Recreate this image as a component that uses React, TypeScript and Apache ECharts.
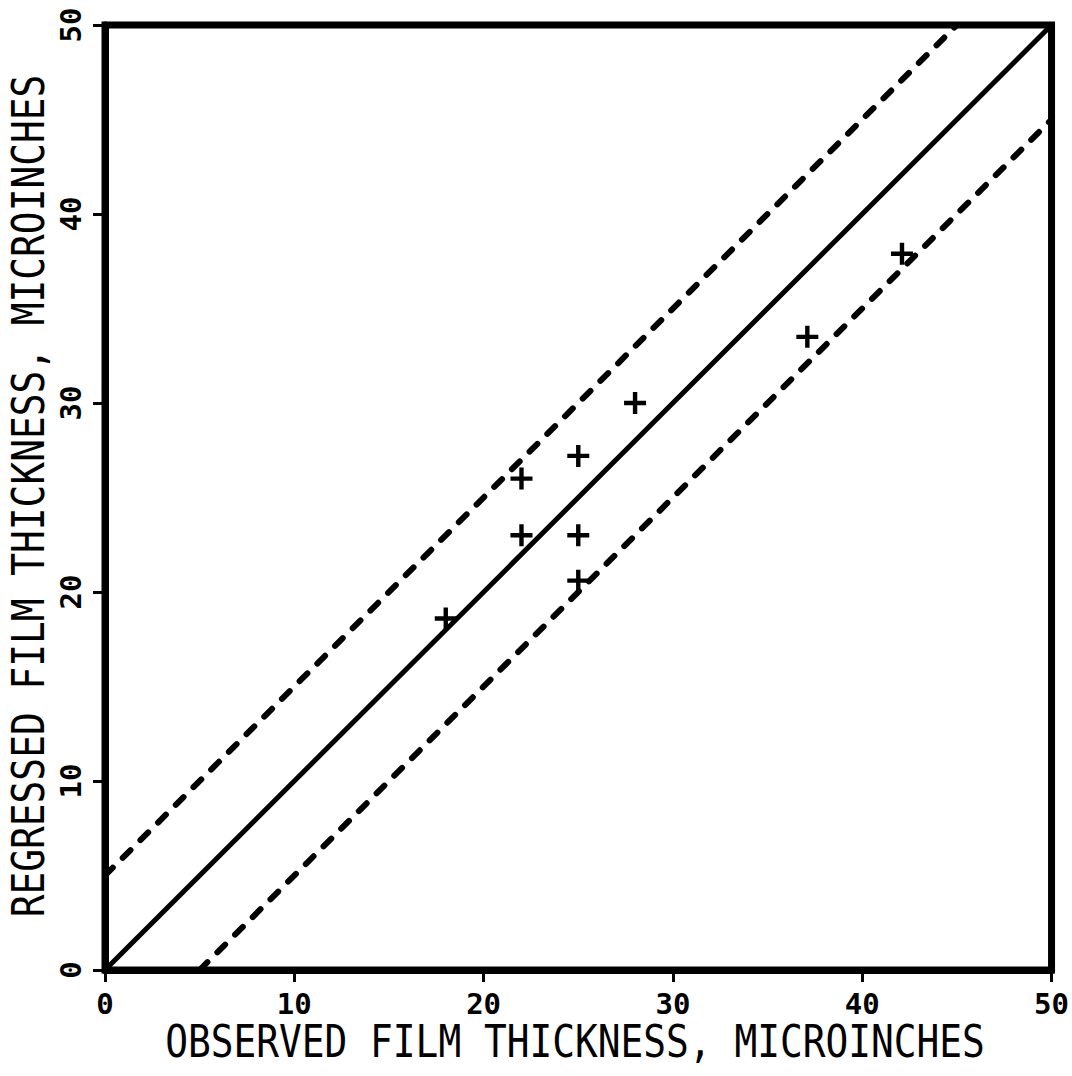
import React, { useEffect, useRef } from "react";
import * as echarts from "echarts";

// Measured points
const observed = [18.0, 22.0, 22.0, 25.0, 25.0, 25.0, 28.0, 37.1, 42.1];
const regressed = [18.6, 23.0, 26.0, 27.2, 23.0, 20.6, 30.0, 33.5, 37.9];

// Perfect agreement and +/- 5 microinch bands
const perfectLine = [[0, 0], [50, 50]];
const upperBand = [[0, 5], [45, 50]];
const lowerBand = [[5, 0], [50, 45]];

const axisMin = 0;
const axisMax = 50;
const axisStep = 10;

const xTitle = "OBSERVED FILM THICKNESS, MICROINCHES";
const yTitle = "REGRESSED FILM THICKNESS, MICROINCHES";

const PLUS = "path://M4,0 H6 V4 H10 V6 H6 V10 H4 V6 H0 V4 H4 Z";

export default function App() {
  const ref = useRef<HTMLDivElement>(null);

  useEffect(() => {
    if (!ref.current) return;
    const chart = echarts.init(ref.current, null, { renderer: "svg" });

    const axisCommon = {
      type: "value" as const,
      min: axisMin,
      max: axisMax,
      interval: axisStep,
      splitLine: { show: false },
      axisLine: { show: true, lineStyle: { color: "#000", width: 7 } },
      axisTick: { show: true, length: 12, lineStyle: { color: "#000", width: 3 } },
    };

    const labelFont = {
      fontFamily: "DejaVu Sans Mono",
      fontWeight: "bold" as const,
      fontSize: 29,
      color: "#000",
    };

    const titleFont = {
      fontFamily: "DejaVu Sans Mono",
      fontSize: 44,
      fill: "#000",
      align: "center",
      verticalAlign: "middle",
    };

    chart.setOption({
      animation: false,
      backgroundColor: "#fff",
      grid: {
        left: 105,
        right: 14,
        top: 25,
        bottom: 106,
        show: true,
        borderColor: "#000",
        borderWidth: 7,
      },
      xAxis: {
        ...axisCommon,
        axisLabel: { margin: 19, ...labelFont },
      },
      yAxis: {
        ...axisCommon,
        axisLabel: { margin: 20, rotate: 90, ...labelFont },
      },
      graphic: [
        {
          type: "text",
          x: 575,
          y: 1042,
          scaleX: 0.86,
          style: { ...titleFont, text: xTitle },
        },
        {
          type: "text",
          x: 29,
          y: 496,
          rotation: Math.PI / 2,
          scaleX: 0.86,
          style: { ...titleFont, text: yTitle },
        },
      ],
      series: [
        {
          type: "line",
          data: perfectLine,
          symbol: "none",
          lineStyle: { color: "#000", width: 5 },
        },
        {
          type: "line",
          data: upperBand,
          symbol: "none",
          lineStyle: { color: "#000", width: 6, type: [11, 14], cap: "round" },
        },
        {
          type: "line",
          data: lowerBand,
          symbol: "none",
          lineStyle: { color: "#000", width: 6, type: [11, 14], cap: "round" },
        },
        {
          type: "scatter",
          data: observed.map((x, i) => [x, regressed[i]]),
          symbol: PLUS,
          symbolSize: 22,
          itemStyle: { color: "#000", opacity: 1 },
          z: 5,
        },
      ],
    });

    return () => chart.dispose();
  }, []);

  return (
    <div
      ref={ref}
      style={{ position: "fixed", left: 0, top: 0, width: 1072, height: 1076 }}
    />
  );
}
